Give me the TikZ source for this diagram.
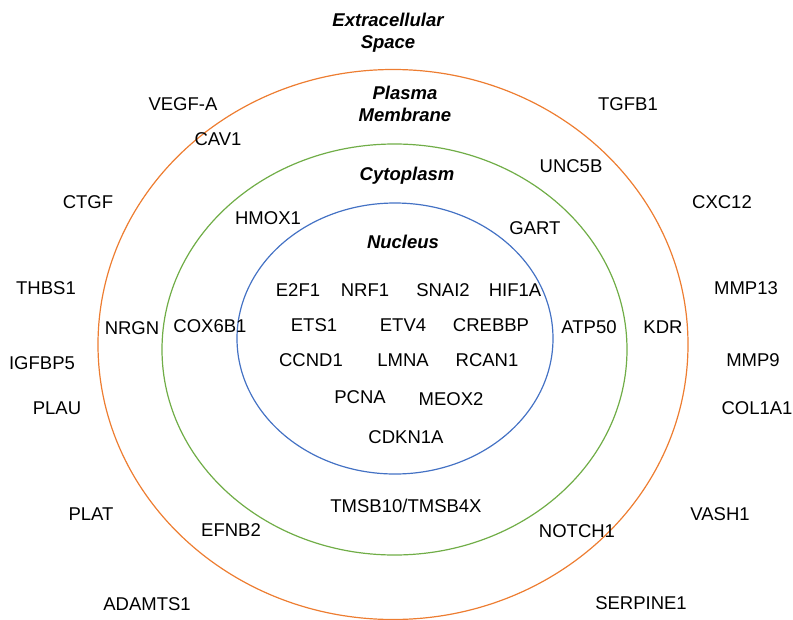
\documentclass[tikz,border=0pt]{standalone}
\usepackage{fontspec}
\setmainfont{Liberation Sans}
\definecolor{orangeC}{HTML}{ED7D31}
\definecolor{greenC}{HTML}{70AD47}
\definecolor{blueC}{HTML}{4472C4}
\begin{document}
\begin{tikzpicture}[x=1pt,y=-1pt,
  gene/.style={inner sep=0pt, font=\fontsize{18.5}{22}\selectfont},
  region/.style={inner sep=0pt, align=center, font=\fontsize{18.5}{22}\selectfont\bfseries\itshape},
  ring/.style={line width=1.2pt}]
\useasboundingbox (0,0) rectangle (793,619);
% compartments
\draw[ring, orangeC] (393,344.5) ellipse [x radius=295pt, y radius=275pt];
\draw[ring, greenC] (394.5,349.5) ellipse [x radius=232.5pt, y radius=205.5pt];
\draw[ring, blueC] (395,338.5) ellipse [x radius=158pt, y radius=135.5pt];
% region titles
\node[region] (ext) at (388,33) {Extracellular\\Space};
\node[region] (pm) at (405,104) {Plasma\\Membrane};
\node[region] (cyto) at (407,176) {Cytoplasm};
\node[region] (nuc) at (403,242) {Nucleus};
% extracellular
\node[gene] (vegfa) at (183,104) {VEGF-A};
\node[gene] (tgfb1) at (628,104) {TGFB1};
\node[gene] (ctgf) at (88,202) {CTGF};
\node[gene] (cxc12) at (722,202) {CXC12};
\node[gene] (thbs1) at (46,288) {THBS1};
\node[gene] (mmp13) at (746,288) {MMP13};
\node[gene] (igfbp5) at (42,363) {IGFBP5};
\node[gene] (mmp9) at (753,360) {MMP9};
\node[gene] (plau) at (57,408) {PLAU};
\node[gene] (col1a1) at (757,408) {COL1A1};
\node[gene] (plat) at (91,514) {PLAT};
\node[gene] (vash1) at (720,514) {VASH1};
\node[gene] (adamts1) at (147,604) {ADAMTS1};
\node[gene] (serpine1) at (641,603) {SERPINE1};
% plasma membrane
\node[gene] (cav1) at (218,139) {CAV1};
\node[gene] (unc5b) at (571,166) {UNC5B};
\node[gene] (nrgn) at (132,328) {NRGN};
\node[gene] (kdr) at (663,327) {KDR};
\node[gene] (efnb2) at (231,530) {EFNB2};
\node[gene] (notch1) at (577,531) {NOTCH1};
% cytoplasm
\node[gene] (hmox1) at (268,218) {HMOX1};
\node[gene] (gart) at (535,228) {GART};
\node[gene] (cox6b1) at (210,326) {COX6B1};
\node[gene] (atp50) at (589,327) {ATP50};
\node[gene] (tmsb) at (406,506) {TMSB10/TMSB4X};
% nucleus
\node[gene] (e2f1) at (298,290) {E2F1};
\node[gene] (nrf1) at (365,290) {NRF1};
\node[gene] (snai2) at (443,290) {SNAI2};
\node[gene] (hif1a) at (515,290) {HIF1A};
\node[gene] (ets1) at (314,325) {ETS1};
\node[gene] (etv4) at (403,325) {ETV4};
\node[gene] (crebbp) at (491,325) {CREBBP};
\node[gene] (ccnd1) at (311,360) {CCND1};
\node[gene] (lmna) at (403,360) {LMNA};
\node[gene] (rcan1) at (487,360) {RCAN1};
\node[gene] (pcna) at (360,397) {PCNA};
\node[gene] (meox2) at (451,399) {MEOX2};
\node[gene] (cdkn1a) at (406,437) {CDKN1A};
\end{tikzpicture}
\end{document}
